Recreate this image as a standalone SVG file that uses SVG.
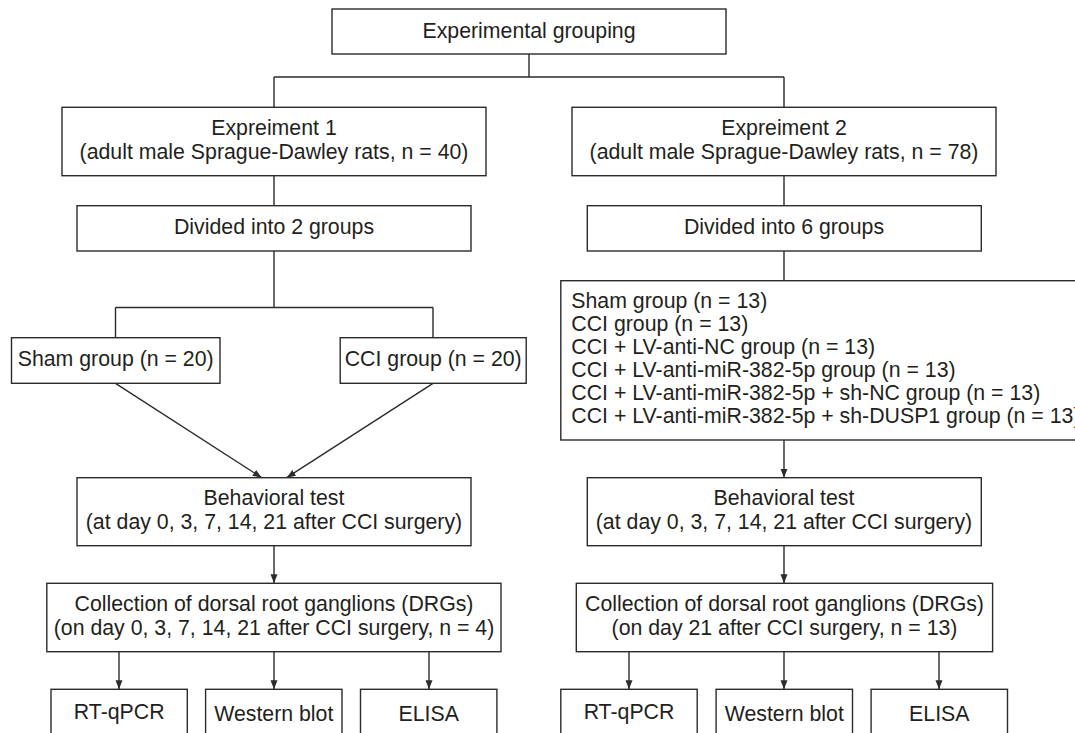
<svg xmlns="http://www.w3.org/2000/svg" width="1075" height="733" viewBox="0 0 1075 733">
<defs>
<style>
.box{fill:#fff;stroke:#2b2b2b;stroke-width:1.4}
.t{font-family:"Liberation Sans",Arial,sans-serif;font-size:21.3px;fill:#231f20;text-anchor:middle}
.tl{font-family:"Liberation Sans",Arial,sans-serif;font-size:21.3px;fill:#231f20;text-anchor:start}
.c{fill:none;stroke:#2b2b2b;stroke-width:1.4}
.a{fill:none;stroke:#2b2b2b;stroke-width:1.4;marker-end:url(#ah)}
</style>
<marker id="ah" markerUnits="userSpaceOnUse" markerWidth="10" markerHeight="8" refX="9" refY="3.5" orient="auto">
<path d="M0,0 L9,3.5 L0,7 Z" fill="#2b2b2b"/>
</marker>
</defs>
<rect width="1075" height="733" fill="#fff"/>
<g id="connectors">
<path class="c" d="M529,54 V77 M274,77 H784 M274,77 V107.3 M784,77 V107.3"/>
<path class="c" d="M274,175.7 V205.7 M784,175.7 V205.7"/>
<path class="c" d="M274,251 V307.5 M115.5,307.5 H433 M115.5,307.5 V337.7 M433,307.5 V337.7"/>
<path class="c" d="M784,251 V280.7"/>
<line class="a" x1="115.5" y1="383.3" x2="261.7" y2="477.7"/>
<line class="a" x1="433" y1="383.3" x2="286.7" y2="477.7"/>
<line class="a" x1="784" y1="440" x2="784" y2="477.7"/>
<line class="a" x1="274" y1="545.7" x2="274" y2="583.3"/>
<line class="a" x1="784" y1="545.7" x2="784" y2="583.3"/>
<line class="a" x1="119" y1="651.7" x2="119" y2="689.3"/>
<line class="a" x1="274" y1="651.7" x2="274" y2="689.3"/>
<line class="a" x1="429" y1="651.7" x2="429" y2="689.3"/>
<line class="a" x1="629" y1="651.7" x2="629" y2="689.3"/>
<line class="a" x1="784" y1="651.7" x2="784" y2="689.3"/>
<line class="a" x1="939" y1="651.7" x2="939" y2="689.3"/>
</g>
<g id="top">
<rect class="box" x="332" y="9" width="394" height="45"/>
<text class="t" x="529" y="37.5">Experimental grouping</text>
</g>
<g id="exp1">
<rect class="box" x="62" y="107.3" width="424" height="68.4"/>
<text class="t" x="274" y="135">Expreiment 1</text>
<text class="t" x="274" y="158.5">(adult male Sprague-Dawley rats, n = 40)</text>
</g>
<g id="exp2">
<rect class="box" x="572" y="107.3" width="424" height="68.4"/>
<text class="t" x="784" y="135">Expreiment 2</text>
<text class="t" x="784" y="158.5">(adult male Sprague-Dawley rats, n = 78)</text>
</g>
<g id="div1">
<rect class="box" x="77" y="205.7" width="394" height="45.3"/>
<text class="t" x="274" y="234.3">Divided into 2 groups</text>
</g>
<g id="div2">
<rect class="box" x="587.3" y="205.7" width="394" height="45.3"/>
<text class="t" x="784" y="234.3">Divided into 6 groups</text>
</g>
<g id="sham">
<rect class="box" x="11.5" y="337.7" width="208.5" height="45.6"/>
<text class="t" x="115.7" y="366">Sham group (n = 20)</text>
</g>
<g id="cci">
<rect class="box" x="340.2" y="337.7" width="186" height="45.6"/>
<text class="t" x="433.2" y="366">CCI group (n = 20)</text>
</g>
<g id="groups6">
<rect class="box" x="560.8" y="280.7" width="530" height="159.3"/>
<text class="tl" x="571.3" y="307.7">Sham group (n = 13)</text>
<text class="tl" x="571.3" y="330.8">CCI group (n = 13)</text>
<text class="tl" x="571.3" y="353.9">CCI + LV-anti-NC group (n = 13)</text>
<text class="tl" x="571.3" y="377">CCI + LV-anti-miR-382-5p group (n = 13)</text>
<text class="tl" x="571.3" y="400.1">CCI + LV-anti-miR-382-5p + sh-NC group (n = 13)</text>
<text class="tl" x="571.3" y="423.2">CCI + LV-anti-miR-382-5p + sh-DUSP1 group (n = 13)</text>
</g>
<g id="beh1">
<rect class="box" x="77" y="477.7" width="394" height="68"/>
<text class="t" x="274" y="505.3">Behavioral test</text>
<text class="t" x="274" y="528.8">(at day 0, 3, 7, 14, 21 after CCI surgery)</text>
</g>
<g id="beh2">
<rect class="box" x="587.3" y="477.7" width="394" height="68"/>
<text class="t" x="784" y="505.3">Behavioral test</text>
<text class="t" x="784" y="528.8">(at day 0, 3, 7, 14, 21 after CCI surgery)</text>
</g>
<g id="col1">
<rect class="box" x="46.8" y="583.3" width="454.2" height="68.4"/>
<text class="t" x="274" y="611.2">Collection of dorsal root ganglions (DRGs)</text>
<text class="t" x="274" y="634.6">(on day 0, 3, 7, 14, 21 after CCI surgery, n = 4)</text>
</g>
<g id="col2">
<rect class="box" x="576.3" y="583.3" width="416.3" height="68.4"/>
<text class="t" x="784.5" y="611.2">Collection of dorsal root ganglions (DRGs)</text>
<text class="t" x="784.5" y="634.6">(on day 21 after CCI surgery, n = 13)</text>
</g>
<g id="rtqpcr1">
<rect class="box" x="51" y="689.3" width="136.3" height="60"/>
<text class="t" x="119.2" y="719">RT-qPCR</text>
</g>
<g id="wb1">
<rect class="box" x="205.6" y="689.3" width="136.4" height="60"/>
<text class="t" x="273.8" y="721">Western blot</text>
</g>
<g id="elisa1">
<rect class="box" x="360.5" y="689.3" width="136.4" height="60"/>
<text class="t" x="428.7" y="721">ELISA</text>
</g>
<g id="rtqpcr2">
<rect class="box" x="560.8" y="689.3" width="136.4" height="60"/>
<text class="t" x="629" y="719">RT-qPCR</text>
</g>
<g id="wb2">
<rect class="box" x="716.1" y="689.3" width="136.4" height="60"/>
<text class="t" x="784.3" y="721">Western blot</text>
</g>
<g id="elisa2">
<rect class="box" x="871.1" y="689.3" width="136.4" height="60"/>
<text class="t" x="939.3" y="721">ELISA</text>
</g>
</svg>
